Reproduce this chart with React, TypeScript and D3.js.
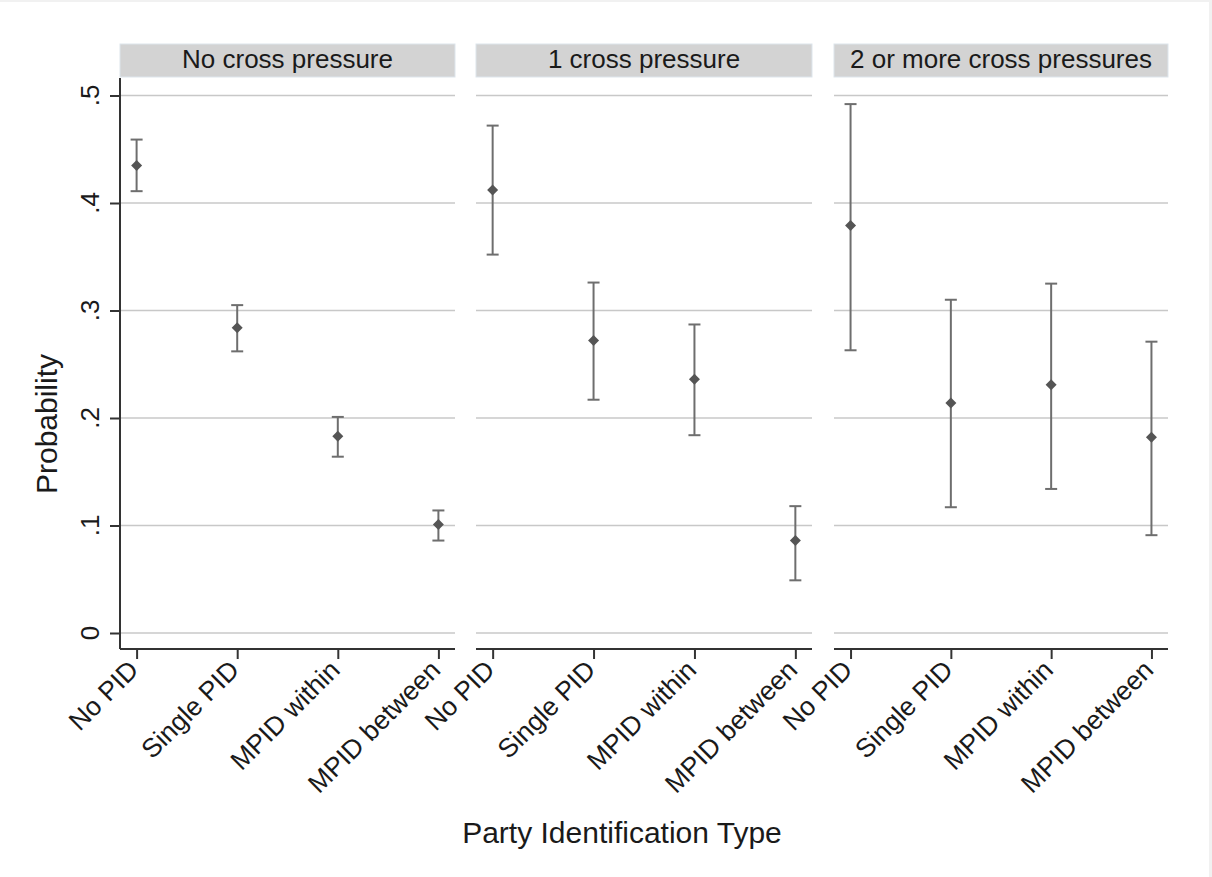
import React, { useEffect, useRef } from 'react';
import * as d3 from 'd3';

// panels (facets)
const panels = ['No cross pressure', '1 cross pressure', '2 or more cross pressures'];
const pidTypes = ['No PID', 'Single PID', 'MPID within', 'MPID between'];

// predicted probability and 95% CI, one array per panel, in pidTypes order
const est = [
  [0.435, 0.284, 0.183, 0.101],
  [0.412, 0.272, 0.236, 0.086],
  [0.379, 0.214, 0.231, 0.182],
];
const lower = [
  [0.411, 0.262, 0.164, 0.086],
  [0.352, 0.217, 0.184, 0.049],
  [0.263, 0.117, 0.134, 0.091],
];
const upper = [
  [0.459, 0.305, 0.201, 0.114],
  [0.472, 0.326, 0.287, 0.118],
  [0.492, 0.310, 0.325, 0.271],
];
const yTicks = [0, 0.1, 0.2, 0.3, 0.4, 0.5];

const W = 1212;
const H = 877;

const App = () => {
  const svgRef = useRef<SVGSVGElement>(null);

  useEffect(() => {
    const svg = d3.select(svgRef.current);
    svg.selectAll('*').remove();

    const top = 78;
    const bottom = 649;
    const panelX = [[120, 455], [476, 812], [834, 1168]];
    const font = 'Arial, "Liberation Sans", sans-serif';

    const y = d3.scaleLinear().domain([0, 0.5]).range([633, 95.5]);

    // light frame like the exported picture
    svg.append('rect').attr('width', W).attr('height', H).attr('fill', '#f1f1f1');
    svg.append('rect').attr('x', 0).attr('y', 2).attr('width', W - 3).attr('height', H - 2).attr('fill', '#fff');

    panels.forEach((title, p) => {
      const [x0, x1] = panelX[p];
      const x = d3.scalePoint().domain(pidTypes).range([x0, x1]).padding(0.165);
      const g = svg.append('g');

      // strip header
      g.append('rect')
        .attr('x', x0).attr('y', 44).attr('width', x1 - x0).attr('height', 33)
        .attr('fill', '#d3d3d3').attr('stroke', '#dde5ec').attr('stroke-width', 1);
      g.append('text')
        .attr('x', (x0 + x1) / 2).attr('y', 68)
        .attr('text-anchor', 'middle')
        .attr('font-family', font).attr('font-size', 26)
        .attr('fill', '#1a1a1a')
        .text(title);

      // gridlines
      g.selectAll('.grid')
        .data(yTicks)
        .join('line')
        .attr('x1', x0).attr('x2', x1)
        .attr('y1', d => y(d)).attr('y2', d => y(d))
        .attr('stroke', '#c8c8c8').attr('stroke-width', 1.6);

      // bottom axis
      const xAxis = d3.axisBottom(x).tickSize(10).tickSizeOuter(0).tickFormat(() => '');
      g.append('g')
        .attr('transform', `translate(0, ${bottom})`)
        .call(xAxis)
        .call(a => a.select('.domain').attr('stroke', '#333').attr('stroke-width', 2).attr('d', `M${x0},0H${x1}`))
        .call(a => a.selectAll('.tick line').attr('stroke', '#333').attr('stroke-width', 2));

      g.selectAll('.xlab')
        .data(pidTypes)
        .join('text')
        .attr('transform', d => `translate(${(x(d) as number) - 3}, 665) rotate(-45)`)
        .attr('text-anchor', 'end')
        .attr('dy', '0.35em')
        .attr('font-family', font).attr('font-size', 26.5)
        .attr('fill', '#1a1a1a')
        .text(d => d);

      // left axis on first panel only
      if (p === 0) {
        const yAxis = d3.axisLeft(y).tickValues(yTicks).tickSize(10).tickFormat(() => '');
        g.append('g')
          .attr('transform', `translate(${x0}, 0)`)
          .call(yAxis)
          .call(a => a.select('.domain').attr('stroke', '#333').attr('stroke-width', 2).attr('d', `M0,${top}V${bottom}`))
          .call(a => a.selectAll('.tick line').attr('stroke', '#333').attr('stroke-width', 2));
        g.selectAll('.ylab')
          .data(yTicks)
          .join('text')
          .attr('transform', d => `translate(99, ${y(d)}) rotate(-90)`)
          .attr('text-anchor', 'middle')
          .attr('font-family', font).attr('font-size', 26)
          .attr('fill', '#1a1a1a')
          .text(d => (d === 0 ? '0' : d3.format('.1f')(d).replace(/^0/, '')));
      }

      // CI bars
      const rows = pidTypes.map((k, i) => ({ k, m: est[p][i], lo: lower[p][i], hi: upper[p][i] }));
      const bars = g.selectAll('.ci').data(rows).join('g')
        .attr('transform', d => `translate(${x(d.k)}, 0)`);
      bars.append('line')
        .attr('y1', d => y(d.lo)).attr('y2', d => y(d.hi))
        .attr('stroke', '#6e6e6e').attr('stroke-width', 2);
      bars.append('line')
        .attr('x1', -6).attr('x2', 6)
        .attr('y1', d => y(d.hi)).attr('y2', d => y(d.hi))
        .attr('stroke', '#6e6e6e').attr('stroke-width', 2);
      bars.append('line')
        .attr('x1', -6).attr('x2', 6)
        .attr('y1', d => y(d.lo)).attr('y2', d => y(d.lo))
        .attr('stroke', '#6e6e6e').attr('stroke-width', 2);
      bars.append('path')
        .attr('transform', d => `translate(0, ${y(d.m)})`)
        .attr('d', 'M0,-5.5L5.5,0L0,5.5L-5.5,0Z')
        .attr('fill', '#555');
    });

    // axis titles
    svg.append('text')
      .attr('transform', 'translate(57, 424) rotate(-90)')
      .attr('text-anchor', 'middle')
      .attr('font-family', font).attr('font-size', 30)
      .attr('fill', '#1a1a1a')
      .text('Probability');
    svg.append('text')
      .attr('x', 622).attr('y', 843)
      .attr('text-anchor', 'middle')
      .attr('font-family', font).attr('font-size', 30)
      .attr('fill', '#1a1a1a')
      .text('Party Identification Type');
  }, []);

  return (
    <svg
      ref={svgRef}
      width={W}
      height={H}
      viewBox={`0 0 ${W} ${H}`}
      style={{ position: 'absolute', left: 0, top: 0 }}
    />
  );
};

export default App;
